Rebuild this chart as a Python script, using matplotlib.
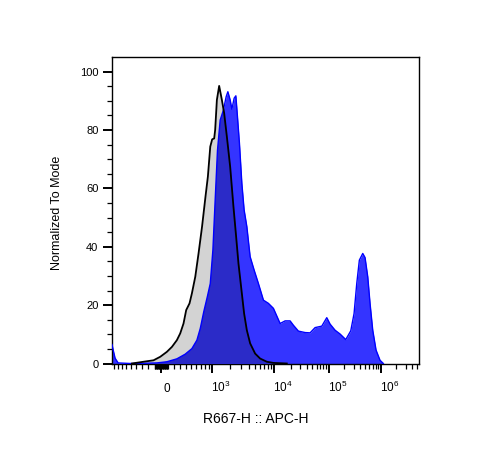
import numpy as np
import matplotlib
matplotlib.use("Agg")
import matplotlib.pyplot as plt
import matplotlib.transforms as mtransforms

plt.rcParams['font.family'] = ['Liberation Sans', 'DejaVu Sans']
plt.rcParams['mathtext.fontset'] = 'custom'
plt.rcParams['mathtext.rm'] = 'Liberation Sans'
plt.rcParams['mathtext.default'] = 'regular'

# stained sample (blue) and control (grey), x in fluorescence units, y in % of mode
sample_x = [-950, -915, -865, -787, -517, -248, -65, 86, 243, 385, 511, 615, 690, 773, 865, 945,
            1030, 1131, 1241, 1381, 1569, 1739, 1854, 2022, 2154, 2346, 2498, 2649, 2851, 3113,
            3383, 3734, 4209, 4866, 5681, 6805, 8143, 9747, 12870, 15890, 19610, 22540, 27810,
            36880, 45520, 56180, 74500, 91900, 105900, 132200, 164900, 212300, 264900, 306600,
            345500, 387700, 450600, 498700, 562300, 622300, 701500, 812000, 969000, 1122000]
sample_y = [6.5, 4.5, 1.8, 0.2, 0, 0.1, 0.2, 0.6, 1.6, 3.2, 5.1, 8, 12, 17.7, 22.9, 27.4,
            38.9, 56, 73, 83.4, 86.9, 91.4, 93.1, 90.3, 87.1, 90.9, 91.7, 84.6, 75.4, 61.7,
            52.6, 46.9, 36.6, 32, 27.4, 21.7, 20.6, 18.9, 13.7, 14.6, 14.6, 13.1, 11.1,
            10.6, 10.5, 12.3, 12.8, 15.7, 13.5, 11.4, 10.1, 8.2, 11.2, 17.1,
            27.4, 35.4, 37.7, 36.3, 29.7, 20.6, 11.4, 4.6, 1.1, 0]

control_x = [-484, -276, -117, -15, 86, 164, 243, 298, 355, 403, 465, 511, 580, 651, 732, 816,
             879, 945, 1000, 1086, 1131, 1212, 1327, 1475, 1612, 1786, 2022, 2286, 2525, 2749,
             3113, 3383, 3734, 4209, 5043, 6039, 7688, 9747, 17070]
control_y = [0, 0.6, 1.1, 2.3, 4, 5.7, 8, 10.3, 13.7, 18.3, 20.6, 24, 29.7, 37.7, 46.9, 57.1,
             64, 74.3, 76.8, 77.1, 80, 90.3, 95.1, 90.3, 85.7, 77.7, 67.4, 53.7, 43.4, 34.3,
             24, 17.1, 11.4, 6.9, 3.4, 1.7, 0.6, 0.2, 0]

x_ticks = [0, 1e3, 1e4, 1e5, 1e6]
x_ticklabels = ['0', '$10^{3}$', '$10^{4}$', '$10^{5}$', '$10^{6}$']
x_minor = ([-100 * k for k in range(2, 10)] + [10 * k for k in range(-10, 11) if k != 0]
           + [100 * k for k in range(2, 10)]
           + [k * 10.0 ** d for d in (3, 4, 5) for k in range(2, 10)]
           + [k * 1e6 for k in range(2, 6)])

# biexponential-like display: asinh, then piecewise linear between decade marks
W = 600.0
T_ANCH = np.arcsinh(np.array(x_ticks) / W)
P_ANCH = np.array([0, 51, 113, 167.7, 219.7])
S0 = P_ANCH[1] / T_ANCH[1]
S1 = (P_ANCH[-1] - P_ANCH[-2]) / (T_ANCH[-1] - T_ANCH[-2])


def forward(x):
    t = np.arcsinh(np.asarray(x, dtype=float) / W)
    p = np.interp(t, T_ANCH, P_ANCH)
    p = np.where(t < 0, t * S0, p)
    p = np.where(t > T_ANCH[-1], P_ANCH[-1] + (t - T_ANCH[-1]) * S1, p)
    return p


def inverse(p):
    p = np.asarray(p, dtype=float)
    t = np.interp(p, P_ANCH, T_ANCH)
    t = np.where(p < 0, p / S0, t)
    t = np.where(p > P_ANCH[-1], T_ANCH[-1] + (p - P_ANCH[-1]) / S1, t)
    return W * np.sinh(t)


fig = plt.figure(figsize=(4.78, 4.57), dpi=100)
ax = fig.add_axes([112 / 478, 93.5 / 457, 307 / 478, 306.5 / 457])
ax.set_xscale('function', functions=(forward, inverse))

gfill = ax.fill_between(control_x, control_y, 0, color='#d3d3d3', lw=0, zorder=1)
bfill = ax.fill_between(sample_x, sample_y, 0, color='#3434ff', lw=0, zorder=2)
overlap = ax.fill_between(control_x, control_y, 0, color='#2b2bc8', lw=0, zorder=3)
overlap.set_clip_path(bfill.get_paths()[0], ax.transData)
ax.plot(sample_x, sample_y, color='#0000ff', lw=1, zorder=4)
ax.plot(control_x, control_y, color='black', lw=1.3, zorder=5)

ax.set_xlim(-950, 5.45e6)
ax.set_ylim(0, 105)

ax.set_xticks(x_ticks)
ax.set_xticklabels(x_ticklabels)
ax.set_xticks(x_minor, minor=True)
ax.set_yticks([0, 20, 40, 60, 80, 100])
ax.set_yticks(np.arange(5, 105, 5), minor=True)

ax.tick_params(which='major', direction='out', length=6.3, width=1.4, labelsize=8)
ax.tick_params(which='minor', direction='out', length=3.5, width=0.9)
ax.tick_params(axis='y', which='major', pad=3.5)
ax.tick_params(axis='x', which='major', pad=14, labelsize=8.5)
for sp in ax.spines.values():
    sp.set_linewidth(1)

for tk, lab in zip(ax.xaxis.get_major_ticks(), x_ticklabels):
    dx = 6 if lab == '0' else 8.5
    off = mtransforms.ScaledTranslation(dx / 100, 0, fig.dpi_scale_trans)
    tk.label1.set_transform(tk.label1.get_transform() + off)
    tk.label1.set_verticalalignment('baseline')

fig.text(57.5 / 478, 1 - 213 / 457, 'Normalized To Mode', rotation=90,
         ha='center', va='center', fontsize=9)
fig.text(256 / 478, 1 - 419 / 457, 'R667-H :: APC-H', ha='center', va='center', fontsize=10)

fig.savefig('out.png', dpi=100)
